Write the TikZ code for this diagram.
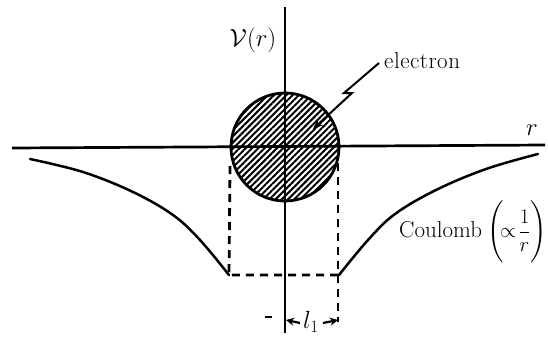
\documentclass[tikz,border=0pt]{standalone}
\usepackage{amsmath}
\usetikzlibrary{patterns.meta,arrows.meta}
\begin{document}
\begin{tikzpicture}[x=1pt,y=-1pt,
  axis/.style={line width=2.7pt},
  curve/.style={line width=2.5pt, line cap=round},
  dashln/.style={line width=2.8pt, dash pattern=on 8pt off 6pt},
  lbl/.style={font=\fontsize{23}{27}\selectfont, inner sep=0pt},
  dimarrow/.style={line width=2.2pt, -{Stealth[length=8pt,width=8pt]}}]
\useasboundingbox (0,0) rectangle (548,338);
% electron
\node (e) [circle, minimum size=108pt, inner sep=0pt, draw, line width=2.8pt,
  pattern={Lines[angle=45,distance=4.4pt,line width=2pt]}] at (285,147) {};
% axes
\coordinate (xl) at (12,148);
\coordinate (xr) at (545,145);
\coordinate (yt) at (285,7);
\coordinate (yb) at (285,333);
\draw[axis] (xl) -- (xr);
\draw[axis] (yt) -- (yb);
% labels
\node[lbl] (V) at (253,40) {$\mathcal{V}(r)$};
\node[lbl] (r) at (532,130) {$r$};
\node[lbl, anchor=west] (el) at (384,61) {e\kern0.5pt l\kern0.5pt e\kern0.5pt c\kern0.5pt t\kern0.5pt r\kern0.5pt o\kern0.5pt n};
\node[lbl, anchor=west] (cl) at (399,232) {Coulomb\hspace{5pt}{\fontsize{20}{24}\selectfont$\Biggl(\!\propto\!\dfrac{1}{r}\Biggr)$}};
% lightning pointer
\coordinate (p1) at (379,63);
\coordinate (p2) at (344,93);
\coordinate (p3) at (352,93);
\coordinate (p4) at (313,129);
\draw[line width=2pt, -{Stealth[length=10pt,width=8pt]}] (p1) -- (p2) -- (p3) -- (p4);
% potential curves
\coordinate (lb) at (229,275);
\coordinate (rb) at (339,275);
\draw[curve] plot[smooth, tension=0.6] coordinates {(30,159) (83,172) (133,192) (173,215) (200,240) (229,275)};
\draw[curve] plot[smooth, tension=0.6] coordinates {(339,275) (368,240) (395,214) (436,190) (486,169) (538,154)};
% dashed well
\coordinate (lt) at (230,166);
\coordinate (rt) at (338,163);
\coordinate (rbb) at (338,322);
\draw[dashln] (lt) -- (lb) -- (rb);
\draw[dashln] (rt) -- (rbb);
% dimension
\node[lbl] (l1) at (311,322) {$l_1$};
\coordinate (d1) at (286,320);
\coordinate (d2) at (338,320);
\draw[dimarrow] (l1.west) ++(-3pt,-1pt) coordinate (l1w) (l1w) -- (d1);
\draw[dimarrow] (l1.east) ++(4pt,-1pt) coordinate (l1e) (l1e) -- (d2);
\coordinate (m1) at (265,317);
\coordinate (m2) at (272,317);
\draw[line width=2.2pt] (m1) -- (m2);
\end{tikzpicture}
\end{document}
